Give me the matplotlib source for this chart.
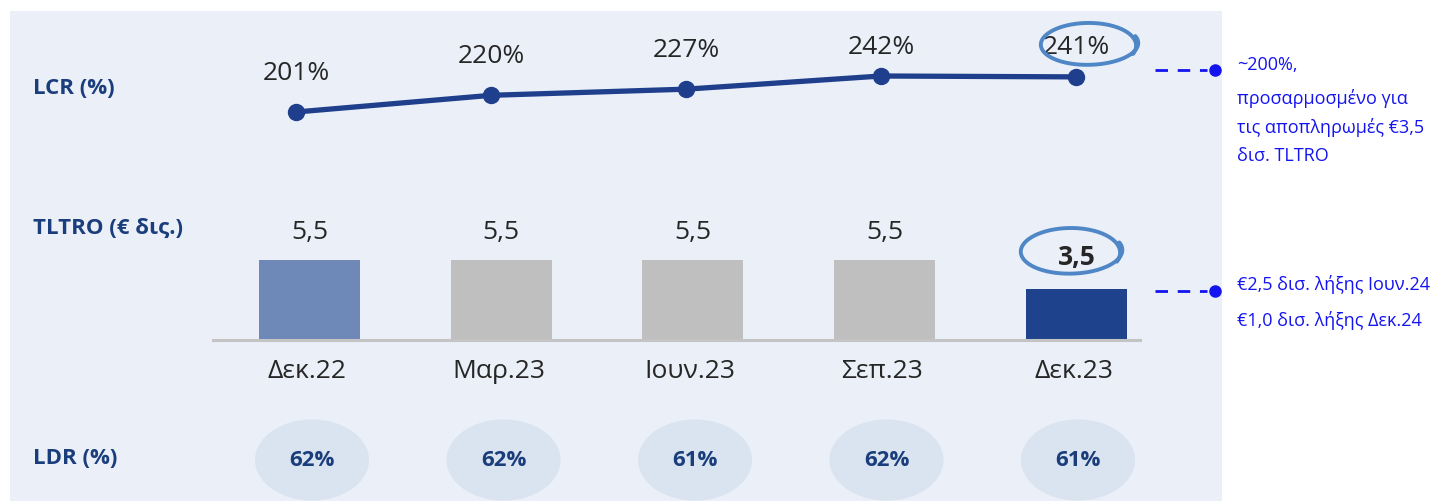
import matplotlib
matplotlib.use('Agg')
import matplotlib.pyplot as plt
from matplotlib.patches import Rectangle, Ellipse
import numpy as np

# data
periods = ['Δεκ.22', 'Μαρ.23', 'Ιουν.23', 'Σεπ.23', 'Δεκ.23']
lcr = [201, 220, 227, 242, 241]
tltro = [5.5, 5.5, 5.5, 5.5, 3.5]
ldr = [62, 62, 61, 62, 61]
bar_colors = ['#6E88B8', '#BFBFBF', '#BFBFBF', '#BFBFBF', '#1F428C']
row_labels = ['LCR (%)', 'TLTRO (€ δις.)', 'LDR (%)']
lcr_note = ['~200%,', 'προσαρμοσμένο για', 'τις αποπληρωμές €3,5', 'δισ. TLTRO']
tltro_note = ['€2,5 δισ. λήξης Ιουν.24', '€1,0 δισ. λήξης Δεκ.24']

plt.rcParams['font.family'] = ['Open Sans', 'DejaVu Sans']

W, H = 1435, 501
fig = plt.figure(figsize=(W / 100, H / 100), dpi=100)
fig.patch.set_facecolor('white')
BG = '#EAEFF8'
NAVY = '#1F3F8C'
LBL = '#1A3D7C'
NOTE = '#1414F0'
HAND = '#4F86C6'

# panel background
fig.patches.append(Rectangle((10 / W, 0), 1212 / W, 490 / H, transform=fig.transFigure,
                             facecolor=BG, edgecolor='none', zorder=-5))


def px_axes(top, bottom, first, step):
    # axes sharing the same horizontal extent, given pixel rows
    ax = fig.add_axes([213 / W, 1 - bottom / H, 927 / W, (bottom - top) / H])
    ax.set_xlim(-(first - 213) / step, -(first - 1140) / step)
    ax.axis('off')
    ax.patch.set_alpha(0)
    return ax


x = np.arange(len(periods))

# LCR line
ax1 = px_axes(40, 140, 296, 195)
ax1.set_ylim(201 - 28 * 1.139, 201 + 72 * 1.139)
ax1.plot(x, lcr, color=NAVY, lw=3.8, marker='o', ms=11.5, solid_capstyle='round')
fig.canvas.draw()
for xi, v in zip(x, lcr):
    ypx = H - ax1.transData.transform((xi, v))[1]
    off = min(39, ypx - 48) * 0.72
    ax1.annotate(f'{v}%', (xi, v), xytext=(0, off), textcoords='offset points',
                 ha='center', va='center', fontsize=19, color='#262626')

# TLTRO bars
ax2 = px_axes(200, 340, 309.5, 191.75)
ax2.set_ylim(0, 140 / 80 * 5.5)
ax2.bar(x, tltro, width=101 / 191.75, color=bar_colors)
ax2.axhline(0, color='#C4C4C4', lw=2.2, clip_on=False)
for xi, v in zip(x, tltro):
    bold = xi == len(x) - 1
    ax2.annotate(f'{v:.1f}'.replace('.', ','), (xi, 5.5), xytext=(0, 11 if not bold else -8),
                 textcoords='offset points', ha='center', va='bottom', fontsize=19,
                 color='#262626', fontweight='bold' if bold else 'normal')
for xi, p in zip(x, periods):
    ax2.annotate(p, (xi - 0.015, 0), xytext=(0, -14), textcoords='offset points',
                 ha='center', va='top', fontsize=19, color='#262626')

# LDR ellipses
ax3 = px_axes(415, 501, 312, 191.5)
ax3.set_ylim(86, 0)
for xi, v in zip(x, ldr):
    ax3.add_patch(Ellipse((xi, 45), 114 / 191.5, 81, facecolor='#DAE3F0', edgecolor='none'))
    ax3.text(xi, 45, f'{v}%', ha='center', va='center', fontsize=16,
             fontweight='bold', color=LBL)

# overlay in pixel coords for labels and notes
ov = fig.add_axes([0, 0, 1, 1])
ov.set_xlim(0, W)
ov.set_ylim(H, 0)
ov.axis('off')
ov.patch.set_alpha(0)

for lbl, y in zip(row_labels, [88, 228, 458]):
    ov.text(33, y, lbl, ha='left', va='center', fontsize=16, fontweight='bold', color=LBL)

# right notes
for y0, lines, ys in [(70, lcr_note, [65, 98, 127, 156]), (291, tltro_note, [285, 321])]:
    ov.plot([1155, 1207], [y0, y0], color=NOTE, lw=2, dashes=(4.5, 3.5))
    ov.plot([1215], [y0], 'o', color=NOTE, ms=8)
    for t, yt in zip(lines, ys):
        ov.text(1237, yt, t, ha='left', va='center', fontsize=13, color=NOTE)


# hand-drawn circles
def hand_circle(cx, cy, a, b):
    t = np.linspace(-0.35, 2 * np.pi + 0.35, 300)
    s = np.linspace(0, 1, t.size)
    xs = cx + a * (1 + 0.05 * s) * np.cos(-t)
    ys = cy + b * (1 - 0.12 * s) * np.sin(-t) - 3 * s
    ov.plot(xs, ys, color=HAND, lw=2.8, solid_capstyle='round')


hand_circle(1089, 46, 47, 23)
hand_circle(1071, 253, 49, 25)

fig.savefig('out.png', dpi=100, facecolor='white')
